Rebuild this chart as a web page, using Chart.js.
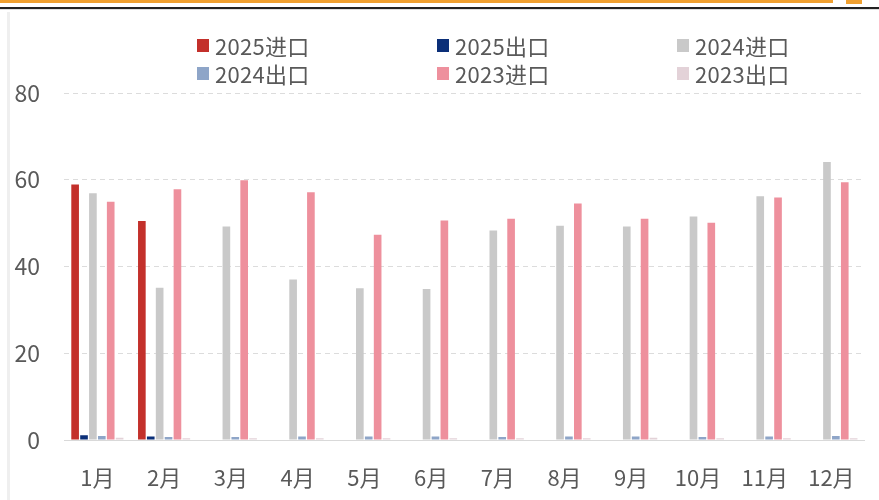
<!DOCTYPE html>
<html>
<head>
<meta charset="utf-8">
<script src="https://cdn.jsdelivr.net/npm/chart.js@4.4.1/dist/chart.umd.min.js"></script>
<style>
  html, body { margin: 0; padding: 0; background: #fff; }
  body { width: 879px; height: 500px; position: relative; overflow: hidden; font-family: "Noto Sans CJK SC", "Noto Sans", sans-serif; }
  #wrap { position: absolute; left: 0; top: 0; width: 879px; height: 500px; }
  .deco-orange { position: absolute; left: 0; top: 0; width: 833px; height: 3px; background: #f0a030; }
  .deco-orange2 { position: absolute; left: 846px; top: 0; width: 16px; height: 4px; background: #f0a030; }
  .deco-black { position: absolute; left: 0; top: 7px; width: 879px; height: 2px; background: #222; }
  .deco-gray { position: absolute; left: 0; top: 9px; width: 879px; height: 1px; background: #ddd; }
  .deco-left { position: absolute; left: 7px; top: 12px; width: 3px; height: 488px; background: #efefef; }
  #legend { position: absolute; left: 0; top: 0; width: 879px; height: 0; }
  .li { position: absolute; display: flex; align-items: center; font-size: 22px; color: #595959; white-space: nowrap; letter-spacing: 0.3px; }
  .li span.box { display: inline-block; width: 12px; height: 13px; margin-right: 6px; }
</style>
</head>
<body>
<div class="deco-orange"></div>
<div class="deco-orange2"></div>
<div class="deco-black"></div>
<div class="deco-gray"></div>
<div class="deco-left"></div>
<div id="wrap"><canvas id="c" width="879" height="500"></canvas></div>
<div id="legend"></div>
<script>
const months = ["1月","2月","3月","4月","5月","6月","7月","8月","9月","10月","11月","12月"];
const seriesNames = ["2025进口","2025出口","2024进口","2024出口","2023进口","2023出口"];
const seriesColors = ["#c3302b","#0b2f78","#c9c9c9","#8ea5c8","#ee909d","#e3d2d8"];
const import2025 = [58.9, 50.5, null, null, null, null, null, null, null, null, null, null];
const export2025 = [1.1, 0.8, null, null, null, null, null, null, null, null, null, null];
const import2024 = [56.9, 35.1, 49.2, 37.0, 35.0, 34.8, 48.3, 49.4, 49.2, 51.5, 56.2, 64.1];
const export2024 = [0.9, 0.7, 0.7, 0.8, 0.8, 0.8, 0.7, 0.8, 0.8, 0.7, 0.8, 0.9];
const import2023 = [54.9, 57.8, 59.9, 57.1, 47.3, 50.6, 51.0, 54.5, 51.0, 50.1, 55.9, 59.4];
const export2023 = [0.5, 0.4, 0.4, 0.4, 0.4, 0.4, 0.4, 0.4, 0.5, 0.4, 0.4, 0.4];
const yTicks = [0, 20, 40, 60, 80];

const seriesData = [import2025, export2025, import2024, export2024, import2023, export2023];

const xFont = { family: "'Noto Sans CJK SC', 'Noto Sans', sans-serif", size: 22 };
const yFont = { family: "'Noto Sans CJK SC', 'Noto Sans', sans-serif", size: 23 };

new Chart(document.getElementById('c'), {
  type: 'bar',
  data: {
    labels: months,
    datasets: seriesNames.map((n, i) => ({
      label: n,
      data: seriesData[i],
      backgroundColor: seriesColors[i],
      borderWidth: 0,
      categoryPercentage: 0.8,
      barPercentage: 0.86
    }))
  },
  options: {
    responsive: false,
    animation: false,
    devicePixelRatio: 1,
    layout: { padding: { top: 93, right: 9, left: 0, bottom: 0 } },
    plugins: { legend: { display: false }, tooltip: { enabled: false } },
    scales: {
      x: {
        grid: { display: false, drawTicks: false },
        border: { display: true, color: '#d9d9d9', width: 1 },
        ticks: { color: '#595959', font: xFont, padding: 24, maxRotation: 0, autoSkip: false },
        afterFit(s) { s.height = 60; }
      },
      y: {
        min: 0, max: 80,
        afterBuildTicks(s) { s.ticks = yTicks.map(v => ({ value: v })); },
        grid: { color: '#dcdcdc', lineWidth: 1, drawTicks: false },
        border: { display: false, dash: [5, 4] },
        ticks: { color: '#595959', font: yFont, padding: 24 },
        afterFit(s) { s.width = 64; }
      }
    }
  }
});

// HTML legend (3 columns x 2 rows)
const leg = document.getElementById('legend');
seriesNames.forEach((n, i) => {
  const col = i % 3, row = Math.floor(i / 3);
  const d = document.createElement('div');
  d.className = 'li';
  d.style.left = (197 + col * 240) + 'px';
  d.style.top = (29 + row * 28) + 'px';
  d.innerHTML = '<span class="box" style="background:' + seriesColors[i] + '"></span>' + n;
  leg.appendChild(d);
});
</script>
</body>
</html>
